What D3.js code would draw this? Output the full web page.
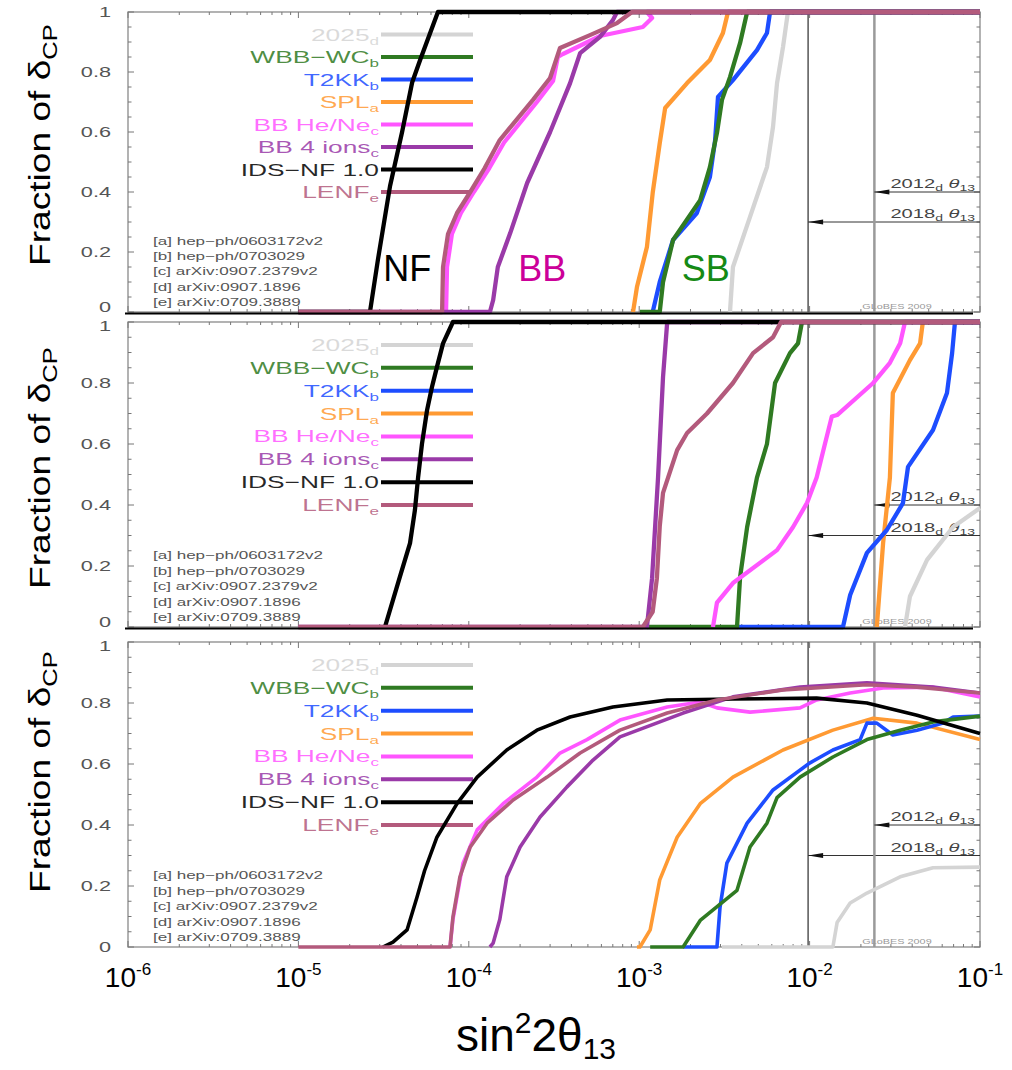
<!DOCTYPE html>
<html>
<head>
<meta charset="utf-8">
<script src="https://cdn.jsdelivr.net/npm/d3@7"></script>
<style>
body { margin:0; background:#fff; }
svg { display:block; font-family:"Liberation Sans", Arial, Helvetica, sans-serif; }
</style>
</head>
<body>
<svg id="chart" width="1012" height="1070"></svg>
<script>

// axis ticks
var xTickValues = [1e-6, 1e-5, 1e-4, 1e-3, 1e-2, 1e-1];
var xTickExp = ["-6", "-5", "-4", "-3", "-2", "-1"];
var yTickValues = [0, 0.2, 0.4, 0.6, 0.8, 1];
var yTickLabels = ["0", "0.2", "0.4", "0.6", "0.8", "1"];

// legend (top to bottom)
var seriesNames = ["2025", "WBB\u2212WC", "T2KK", "SPL", "BB He/Ne", "BB 4 ions", "IDS\u2212NF 1.0", "LENF"];
var seriesRefs = ["d", "b", "b", "a", "c", "c", "", "e"];
var seriesColors = ["#d4d4d4", "#2f7a22", "#1d4dff", "#ff9a33", "#ff55ff", "#9a3aa8", "#000000", "#b35a7c"];
var legendLevels = [0.925, 0.85, 0.775, 0.70, 0.625, 0.55, 0.475, 0.40];
var drawOrder = [0, 3, 2, 1, 4, 5, 6, 7];

var references = ["[a] hep\u2212ph/0603172v2", "[b] hep\u2212ph/0703029", "[c] arXiv:0907.2379v2",
                  "[d] arXiv:0907.1896", "[e] arXiv:0709.3889"];
var referenceLevels = [0.222, 0.172, 0.122, 0.07, 0.02];

// theta13 reach of future reactor/superbeam data
var limitYears = ["2018", "2012"];
var limitValues = [0.0098, 0.024];
var limitLevels = [0.30, 0.40];

// facility labels in the first panel
var facilityNames = ["NF", "BB", "SB"];
var facilityX = [3.15e-5, 1.95e-4, 1.78e-3];
var facilityColors = ["#000000", "#cc0099", "#158a15"];

// ---- panel 1 : [sin^2 2theta13, fraction of deltaCP]
var p1_2025 = [[3.41e-3,0],[3.55e-3,0.15],[4.47e-3,0.317],[5.62e-3,0.483],[6.1e-3,0.617],[6.44e-3,0.763],[6.98e-3,0.883],[7.46e-3,1],[0.1,1]];
var p1_WBB = [[1.01e-3,0],[1.32e-3,0],[1.38e-3,0.1],[1.58e-3,0.24],[2.28e-3,0.373],[2.6e-3,0.483],[2.86e-3,0.597],[3.06e-3,0.707],[3.41e-3,0.783],[3.91e-3,0.897],[4.3e-3,1],[0.1,1]];
var p1_T2KK = [[1.2e-3,0],[1.32e-3,0.1],[1.58e-3,0.24],[2.18e-3,0.33],[2.6e-3,0.45],[2.79e-3,0.573],[2.9e-3,0.717],[3.55e-3,0.773],[4.91e-3,0.873],[5.62e-3,0.93],[5.86e-3,1],[0.1,1]];
var p1_SPL = [[9.2e-4,0],[9.7e-4,0.083],[1.11e-3,0.217],[1.2e-3,0.397],[1.32e-3,0.563],[1.42e-3,0.68],[1.91e-3,0.763],[2.6e-3,0.84],[3.1e-3,0.93],[3.32e-3,1],[0.1,1]];
var p1_HeNe = [[7.35e-5,0],[7.45e-5,0.15],[7.96e-5,0.26],[8.99e-5,0.33],[1.07e-4,0.40],[1.32e-4,0.48],[1.61e-4,0.565],[2.51e-4,0.70],[3.12e-4,0.77],[3.33e-4,0.85],[3.57e-4,0.86],[5.89e-4,0.92],[1.05e-3,0.95],[1.19e-3,0.98],[1.11e-3,1],[0.1,1]];
var p1_4ions = [[1e-5,0],[1.33e-4,0],[1.39e-4,0.04],[1.48e-4,0.15],[1.75e-4,0.263],[2.2e-4,0.43],[3.0e-4,0.6],[3.93e-4,0.763],[4.5e-4,0.863],[5.89e-4,0.917],[7.01e-4,0.973],[7.41e-4,1],[0.1,1]];
var p1_NF = [[1e-5,0],[2.63e-5,0],[2.93e-5,0.175],[3.45e-5,0.42],[4.06e-5,0.6],[4.65e-5,0.765],[5.18e-5,0.84],[6.59e-5,1],[0.1,1]];
var p1_LENF = [[1e-5,0],[6.97e-5,0],[7.06e-5,0.15],[7.55e-5,0.26],[8.53e-5,0.33],[1.02e-4,0.40],[1.24e-4,0.48],[1.52e-4,0.573],[2.38e-4,0.707],[3.0e-4,0.78],[3.43e-4,0.88],[5.14e-4,0.923],[7.41e-4,0.963],[9.08e-4,1],[0.1,1]];

// ---- panel 2
var p2_2025 = [[3.63e-2,0],[3.88e-2,0.1],[4.89e-2,0.22],[6.95e-2,0.328],[0.1,0.39]];
var p2_WBB = [[1.11e-3,0],[3.75e-3,0],[3.91e-3,0.164],[4.3e-3,0.328],[4.91e-3,0.49],[5.62e-3,0.6],[6.27e-3,0.8],[7.67e-3,0.898],[8.55e-3,0.93],[9.02e-3,1],[0.1,1]];
var p2_T2KK = [[3.75e-3,0],[1.57e-2,0],[1.73e-2,0.105],[2.17e-2,0.243],[2.84e-2,0.318],[3.53e-2,0.406],[3.78e-2,0.525],[5.3e-2,0.646],[6.4e-2,0.767],[6.86e-2,0.898],[7.13e-2,1],[0.1,1]];
var p2_SPL = [[2.48e-2,0],[2.7e-2,0.275],[2.96e-2,0.49],[3.08e-2,0.767],[3.88e-2,0.875],[4.45e-2,0.93],[4.62e-2,1],[0.1,1]];
var p2_HeNe = [[2.71e-3,0],[2.86e-3,0.08],[3.55e-3,0.144],[6.44e-3,0.252],[8.0e-3,0.328],[9.66e-3,0.407],[1.1e-2,0.49],[1.23e-2,0.6],[1.35e-2,0.69],[1.45e-2,0.695],[2.36e-2,0.8],[2.96e-2,0.866],[3.4e-2,0.93],[3.63e-2,1],[0.1,1]];
var p2_4ions = [[1e-5,0],[1.11e-3,0],[1.19e-3,0.16],[1.29e-3,0.49],[1.38e-3,0.82],[1.46e-3,1],[0.1,1]];
var p2_NF = [[3.22e-5,0],[3.94e-5,0.164],[4.52e-5,0.275],[4.83e-5,0.384],[5.04e-5,0.49],[5.31e-5,0.6],[5.69e-5,0.711],[6.08e-5,0.787],[6.5e-5,0.852],[7.06e-5,0.93],[8.07e-5,1],[0.1,1]];
var p2_LENF = [[1e-5,0],[1.05e-3,0],[1.2e-3,0.05],[1.27e-3,0.16],[1.32e-3,0.33],[1.38e-3,0.44],[1.67e-3,0.58],[1.91e-3,0.636],[2.5e-3,0.70],[3.55e-3,0.8],[4.66e-3,0.898],[6.1e-3,0.95],[6.8e-3,1],[0.1,1]];

// ---- panel 3
var p3_2025 = [[3.06e-3,0],[1.37e-2,0],[1.45e-2,0.08],[1.73e-2,0.144],[2.17e-2,0.177],[3.4e-2,0.23],[5.3e-2,0.26],[0.1,0.262]];
var p3_WBB = [[1.16e-3,0],[1.81e-3,0],[2.28e-3,0.087],[3.75e-3,0.186],[4.47e-3,0.328],[5.62e-3,0.406],[6.44e-3,0.49],[8.79e-3,0.557],[1.37e-2,0.623],[2.17e-2,0.68],[3.4e-2,0.711],[5.3e-2,0.738],[0.1,0.757]];
var p3_T2KK = [[1.81e-3,0],[2.86e-3,0],[2.98e-3,0.13],[3.27e-3,0.275],[4.3e-3,0.406],[6.1e-3,0.515],[1.0e-2,0.603],[1.37e-2,0.646],[1.98e-2,0.68],[2.17e-2,0.734],[2.48e-2,0.734],[3.08e-2,0.695],[4.27e-2,0.711],[6.07e-2,0.734],[6.95e-2,0.754],[0.1,0.757]];
var p3_SPL = [[9.7e-4,0],[1.01e-3,0],[1.16e-3,0.056],[1.32e-3,0.22],[1.67e-3,0.36],[2.28e-3,0.47],[3.55e-3,0.557],[6.98e-3,0.646],[1.37e-2,0.711],[2.36e-2,0.75],[4.27e-2,0.734],[0.1,0.68]];
var p3_HeNe = [[7.76e-5,0],[8.07e-5,0.09],[9.25e-5,0.275],[1.12e-4,0.384],[1.59e-4,0.47],[2.51e-4,0.557],[3.43e-4,0.636],[4.94e-4,0.68],[7.71e-4,0.744],[1.46e-3,0.787],[2.28e-3,0.803],[2.86e-3,0.784],[4.47e-3,0.77],[8.79e-3,0.784],[1.1e-2,0.81],[1.73e-2,0.833],[2.7e-2,0.849],[5.3e-2,0.852],[0.1,0.82]];
var p3_4ions = [[1.33e-4,0],[1.39e-4,0.013],[1.52e-4,0.09],[1.67e-4,0.23],[2.0e-4,0.328],[2.62e-4,0.426],[3.77e-4,0.525],[5.36e-4,0.613],[7.71e-4,0.689],[1.81e-3,0.767],[3.55e-3,0.82],[8.79e-3,0.852],[2.17e-2,0.866],[5.3e-2,0.852],[0.1,0.833]];
var p3_NF = [[3.13e-5,0],[3.59e-5,0.016],[4.34e-5,0.056],[4.97e-5,0.164],[5.5e-5,0.25],[6.5e-5,0.36],[8.53e-5,0.47],[1.12e-4,0.557],[1.67e-4,0.646],[2.51e-4,0.711],[3.93e-4,0.754],[7.01e-4,0.787],[1.46e-3,0.81],[3.55e-3,0.813],[1.1e-2,0.816],[2.17e-2,0.8],[4.27e-2,0.76],[0.1,0.70]];
var p3_LENF = [[1e-5,0],[7.76e-5,0],[8.07e-5,0.098],[8.87e-5,0.23],[1.02e-4,0.328],[1.28e-4,0.406],[1.82e-4,0.482],[2.88e-4,0.557],[4.5e-4,0.636],[7.71e-4,0.711],[1.46e-3,0.767],[2.86e-3,0.81],[6.98e-3,0.843],[2.17e-2,0.86],[4.27e-2,0.852],[0.1,0.833]];

var panel1 = [p1_2025, p1_WBB, p1_T2KK, p1_SPL, p1_HeNe, p1_4ions, p1_NF, p1_LENF];
var panel2 = [p2_2025, p2_WBB, p2_T2KK, p2_SPL, p2_HeNe, p2_4ions, p2_NF, p2_LENF];
var panel3 = [p3_2025, p3_WBB, p3_T2KK, p3_SPL, p3_HeNe, p3_4ions, p3_NF, p3_LENF];

var svg = d3.select("#chart");
var x = d3.scaleLog().domain([1e-6, 1e-1]).range([128, 980]);

var panels = [
  {top: 12,  bottom: 312, curves: panel1, lw: 4.3, edge: true,  title: 145},
  {top: 322, bottom: 627, curves: panel2, lw: 4.3, edge: true,  title: 468},
  {top: 642, bottom: 947, curves: panel3, lw: 3.6, edge: false, title: 772}
];

var sx = 1.55; // the panel artwork is stretched sideways

function wideText(g, px, py, size, anchor) {
  return g.append("text")
    .attr("transform", "translate(" + px + "," + py + ") scale(" + sx + ",1)")
    .attr("text-anchor", anchor)
    .attr("font-size", size);
}

var minorX = [];
for (var e = -6; e < -1; e++) {
  for (var k = 1; k < 10; k++) minorX.push({v: k * Math.pow(10, e), major: k == 1});
}
minorX.push({v: 0.1, major: true});
var yGrid = d3.range(0, 1.0001, 0.05).map(function(v) {
  return {v: v, major: Math.abs(v * 5 - Math.round(v * 5)) < 1e-6};
});

var line = d3.line();

panels.forEach(function(p, pi) {
  var y = d3.scaleLinear().domain([0, 1]).range([p.bottom, p.top]);
  var g = svg.append("g");
  var x0 = x.range()[0], x1 = x.range()[1];

  // frame
  g.append("rect")
    .attr("x", x0).attr("y", y(1))
    .attr("width", x1 - x0).attr("height", y(0) - y(1))
    .attr("fill", "none").attr("stroke", "#8a8a8a").attr("stroke-width", 1.3);

  // ticks
  [y(0), y(1)].forEach(function(yy, j) {
    var dir = j == 0 ? -1 : 1;
    g.selectAll(null).data(minorX).join("line")
      .attr("x1", function(d) { return x(d.v); }).attr("x2", function(d) { return x(d.v); })
      .attr("y1", yy).attr("y2", function(d) { return yy + dir * (d.major ? 6 : 3); })
      .attr("stroke", "#777").attr("stroke-width", 1);
  });
  [x0, x1].forEach(function(xx, j) {
    var dir = j == 0 ? 1 : -1;
    g.selectAll(null).data(yGrid).join("line")
      .attr("y1", function(d) { return y(d.v); }).attr("y2", function(d) { return y(d.v); })
      .attr("x1", xx).attr("x2", function(d) { return xx + dir * (d.major ? 6 : 3.5); })
      .attr("stroke", "#777").attr("stroke-width", 1);
  });

  // y tick labels (the 0 of one panel and the 1 of the next sit close together)
  yTickValues.forEach(function(v, i) {
    var off = 5;
    if (v == 0 && pi < 2) off = 0;
    if (v == 1 && pi > 0) off = 9;
    wideText(g, 111, y(v) + off, 14, "end").attr("fill", "#555").text(yTickLabels[i]);
  });

  // theta13 limits
  limitValues.forEach(function(v, i) {
    g.append("line")
      .attr("x1", x(v)).attr("x2", x(v)).attr("y1", y(0)).attr("y2", y(1))
      .attr("stroke", i == 0 ? "#555" : "#9a9a9a").attr("stroke-width", i == 0 ? 1.5 : 2.5);
    var ly = y(limitLevels[i]);
    g.append("line")
      .attr("x1", x(v)).attr("x2", x1).attr("y1", ly).attr("y2", ly)
      .attr("stroke", "#333").attr("stroke-width", 1);
    g.append("path")
      .attr("d", "M" + x(v) + "," + ly + "L" + (x(v) + 15) + "," + (ly - 2.5) + "L" + (x(v) + 15) + "," + (ly + 2.5) + "Z")
      .attr("fill", "#111");
    var t = wideText(g, x1 - 5, ly - 4, 13, "end").attr("fill", "#444");
    t.append("tspan").text(limitYears[i]);
    t.append("tspan").attr("font-size", 9).attr("dy", 3).text("d");
    t.append("tspan").attr("dy", -3).text(" ");
    t.append("tspan").attr("font-style", "italic").text("\u03b8");
    t.append("tspan").attr("font-size", 9).attr("dy", 3).text("13");
  });

  // legend
  seriesNames.forEach(function(name, i) {
    var ly = y(legendLevels[i]);
    g.append("line")
      .attr("x1", 381).attr("x2", 473).attr("y1", ly).attr("y2", ly)
      .attr("stroke", seriesColors[i]).attr("stroke-width", 4);
    var t = wideText(g, 379, ly + 6, 17, "end").attr("fill", seriesColors[i]).attr("fill-opacity", 0.85);
    t.append("tspan").text(name);
    if (seriesRefs[i]) t.append("tspan").attr("font-size", 11).attr("dy", 4).text(seriesRefs[i]);
  });

  // references
  references.forEach(function(r, i) {
    wideText(g, 153, y(referenceLevels[i]), 11, "start").attr("fill", "#555").text(r);
  });

  wideText(g, 897, y(0) - 3, 7, "middle").attr("fill", "#999").text("GLoBES 2009");

  // curves
  drawOrder.forEach(function(i) {
    g.append("path")
      .attr("d", line(p.curves[i].map(function(d) { return [x(d[0]), y(d[1])]; })))
      .attr("fill", "none")
      .attr("stroke", seriesColors[i])
      .attr("stroke-width", p.lw)
      .attr("stroke-linejoin", "round");
  });

  if (p.edge) {
    g.append("line")
      .attr("x1", 125).attr("x2", 973).attr("y1", y(0) + 1.5).attr("y2", y(0) + 1.5)
      .attr("stroke", "#000").attr("stroke-width", 2);
  }

  if (pi == 0) {
    facilityNames.forEach(function(n, i) {
      g.append("text")
        .attr("x", x(facilityX[i])).attr("y", y(0.103))
        .attr("font-size", 36).attr("fill", facilityColors[i]).text(n);
    });
  }

  // y axis title
  var yt = svg.append("text")
    .attr("transform", "translate(50," + p.title + ") rotate(-90) scale(1.28,1)")
    .attr("text-anchor", "middle").attr("font-size", 29).attr("fill", "#000");
  yt.append("tspan").text("Fraction of \u03b4");
  yt.append("tspan").attr("font-size", 20).attr("dy", 7).text("CP");
});

// x tick labels
xTickValues.forEach(function(v, i) {
  var t = svg.append("text")
    .attr("x", x(v)).attr("y", 987)
    .attr("text-anchor", "middle").attr("font-size", 28).attr("fill", "#000");
  t.append("tspan").text("10");
  t.append("tspan").attr("font-size", 17).attr("dy", -12).text(xTickExp[i]);
});

// x axis title
var xt = svg.append("text")
  .attr("x", 536).attr("y", 1051)
  .attr("text-anchor", "middle").attr("font-size", 46).attr("fill", "#000");
xt.append("tspan").text("sin");
xt.append("tspan").attr("font-size", 30).attr("dy", -18).text("2");
xt.append("tspan").attr("dy", 18).text("2\u03b8");
xt.append("tspan").attr("font-size", 30).attr("dy", 8).text("13");

</script>
</body>
</html>
